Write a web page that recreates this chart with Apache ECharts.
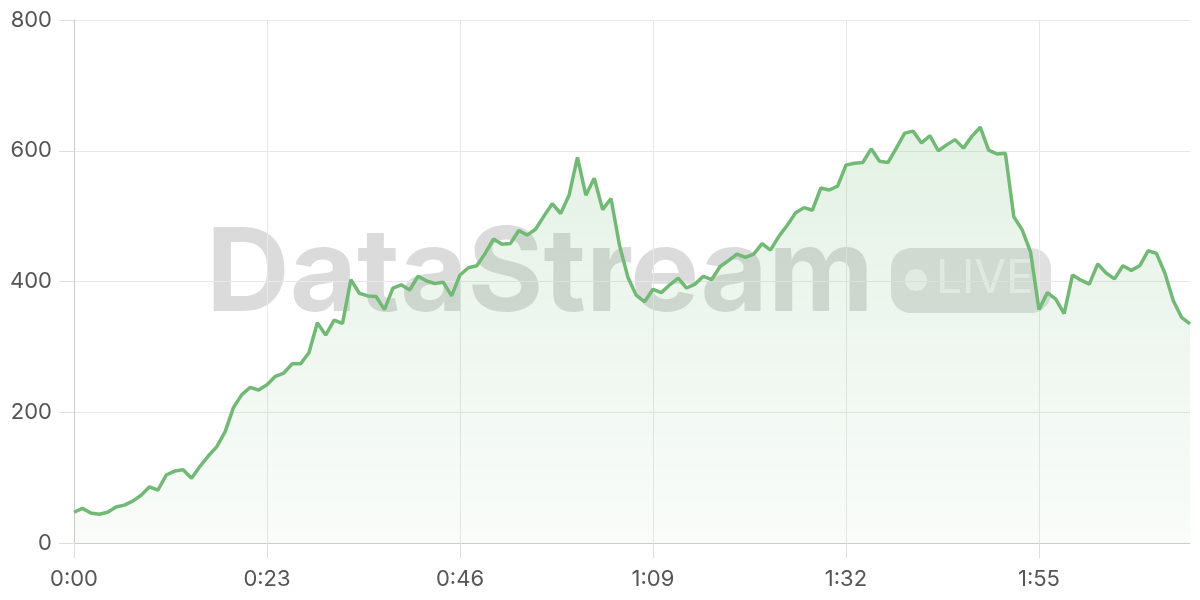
<!DOCTYPE html>
<html>
<head>
<meta charset="utf-8">
<script src="https://cdn.jsdelivr.net/npm/echarts@6/dist/echarts.min.js"></script>
<style>
html,body{margin:0;padding:0;background:#fff;}
#chart{width:1200px;height:600px;}
</style>
</head>
<body>
<div id="chart"></div>
<script>
// elapsed seconds 0..133, one sample per second
const sampleCount = 134;
const tickLabels = ['0:00', '0:23', '0:46', '1:09', '1:32', '1:55'];
const yTicks = [0, 200, 400, 600, 800];
const values = [
  47, 53, 46, 44, 47, 55, 58, 64, 73, 86, 81, 104, 110, 112, 99, 117, 133, 147, 170, 207, 227, 238, 234,
  242,
  255, 260, 274, 274, 291, 337, 318, 341, 336, 403, 382, 378, 377, 357, 390, 395, 387, 408, 401, 397, 399, 378, 410,
  421, 424, 443, 465, 457, 458, 478, 471, 480, 500, 519, 504, 532, 590, 532, 558, 510, 527, 456, 407, 379, 369,
  388, 383, 395, 405, 390, 396, 408, 403, 423, 432, 442, 437, 442, 458, 448, 469, 486, 505, 513, 509, 543, 540, 546,
  578, 581, 582, 603, 584, 582, 604, 627, 630, 612, 623, 600, 609, 617, 604, 622, 636, 601, 595, 596, 499, 479, 445,
  357, 383, 373, 351, 410, 402, 396, 427, 413, 404, 424, 417, 424, 447, 443, 413, 371, 345, 335
];

function fmt(s) {
  const m = Math.floor(s / 60), r = s % 60;
  return m + ':' + (r < 10 ? '0' : '') + r;
}
const categories = [];
for (let i = 0; i < sampleCount; i++) categories.push(fmt(i));

const chart = echarts.init(document.getElementById('chart'), null, {renderer: 'canvas'});
const FONT = 'Inter, "Noto Sans", sans-serif';
chart.setOption({
  animation: false,
  grid: {left: 74, right: 10, top: 20, bottom: 57, containLabel: false},
  graphic: [
    {
      type: 'text', z: 0, left: 206, top: 218,
      style: {text: 'DataStream', font: 'bold 116px ' + FONT, fill: 'rgba(0,0,0,0.14)'}
    },
    {
      type: 'rect', z: 0, left: 891, top: 248,
      shape: {width: 160, height: 65, r: 20},
      style: {fill: 'rgba(0,0,0,0.12)'}
    },
    {
      type: 'circle', z: 0, left: 905, top: 269,
      shape: {r: 11},
      style: {fill: 'rgba(255,255,255,0.6)'}
    },
    {
      type: 'text', z: 0, left: 936, top: 256,
      style: {text: 'LIVE', font: '46px ' + FONT, fill: 'rgba(255,255,255,0.55)'}
    }
  ],
  xAxis: {
    type: 'category',
    data: categories,
    boundaryGap: false,
    axisLine: {show: true, lineStyle: {color: '#cccccc', width: 1}},
    axisTick: {show: true, interval: 22, length: 15, lineStyle: {color: '#dddddd'}},
    axisLabel: {
      interval: 22, margin: 25, color: '#555', fontSize: 22, fontFamily: FONT,
      formatter: (v) => tickLabels.indexOf(v) >= 0 ? v : ''
    },
    splitLine: {show: true, interval: 22, lineStyle: {color: '#e8e8e8', width: 1}}
  },
  yAxis: {
    type: 'value',
    min: 0, max: 800, interval: 200,
    axisLine: {show: true, lineStyle: {color: '#cccccc', width: 1}},
    axisTick: {show: true, length: 15, lineStyle: {color: '#dddddd'}},
    axisLabel: {
      margin: 22, color: '#555', fontSize: 22, fontFamily: FONT,
      formatter: (v) => yTicks.indexOf(v) >= 0 ? String(v) : ''
    },
    splitLine: {show: true, lineStyle: {color: '#e8e8e8', width: 1}}
  },
  series: [{
    type: 'line',
    data: values,
    showSymbol: false,
    smooth: false,
    lineStyle: {color: '#72b976', width: 3.5},
    itemStyle: {color: '#72b976'},
    areaStyle: {
      color: new echarts.graphic.LinearGradient(0, 0, 0, 1, [
        {offset: 0, color: 'rgba(114,185,118,0.28)'},
        {offset: 1, color: 'rgba(114,185,118,0.06)'}
      ])
    },
    z: 2
  }]
});
</script>
</body>
</html>
